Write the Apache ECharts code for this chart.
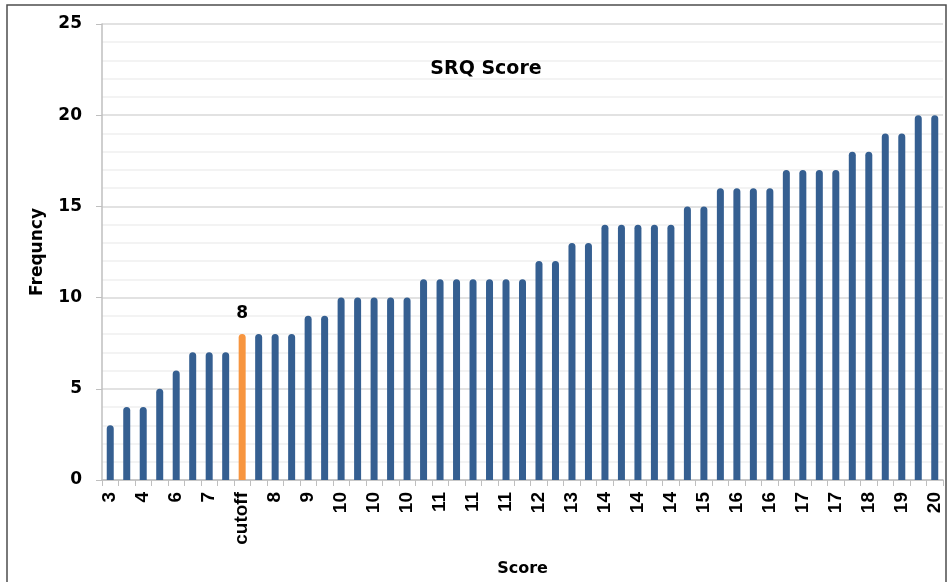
<!DOCTYPE html>
<html>
<head>
<meta charset="utf-8">
<script src="https://cdn.jsdelivr.net/npm/echarts@6/dist/echarts.min.js"></script>
<style>
  html, body { margin: 0; padding: 0; background: #fff; }
  #chart { width: 949px; height: 582px; }
</style>
</head>
<body>
<div id="chart"></div>
<script>
// Sorted SRQ scores; the cutoff column sits among the 8s
const scoreLabels = [
  '3','4','4','5','6','7','7','7','cutoff','8','8','8','9','9',
  '10','10','10','10','10',
  '11','11','11','11','11','11','11',
  '12','12','13','13',
  '14','14','14','14','14',
  '15','15','16','16','16','16',
  '17','17','17','17','18','18','19','19','20','20'
];
const frequency = [
  3,4,4,5,6,7,7,7,8,8,8,8,9,9,
  10,10,10,10,10,
  11,11,11,11,11,11,11,
  12,12,13,13,
  14,14,14,14,14,
  15,15,16,16,16,16,
  17,17,17,17,18,18,19,19,20,20
];
const cutoffLabel = 'cutoff';
const yTicks = [0, 5, 10, 15, 20, 25];

const BLUE = '#355f91';
const ORANGE = '#f7953f';
const TEXT_FONT = 'DejaVu Sans';

const chart = echarts.init(document.getElementById('chart'), null, { renderer: 'canvas' });

const barData = frequency.map((v, i) => {
  if (scoreLabels[i] === cutoffLabel) {
    return {
      value: v,
      itemStyle: { color: ORANGE },
      label: {
        show: true, position: 'top', distance: 12,
        fontFamily: TEXT_FONT, fontWeight: 'bold', fontSize: 17, color: '#000'
      }
    };
  }
  return v;
});

chart.setOption({
  animation: false,
  title: {
    text: 'SRQ Score',
    left: 481, top: 55, textAlign: 'center',
    textStyle: { fontFamily: TEXT_FONT, fontWeight: 'bold', fontSize: 19, color: '#000' }
  },
  graphic: [{
    type: 'rect',
    shape: { x: 7, y: 5, width: 939, height: 700 },
    style: { fill: 'none', stroke: '#4d4d4d', lineWidth: 1.5 },
    silent: true
  }],
  grid: { left: 102, right: 6, top: 24, bottom: 99 },
  xAxis: {
    type: 'category',
    data: scoreLabels,
    name: 'Score',
    nameLocation: 'middle',
    nameGap: 81,
    nameTextStyle: { fontFamily: TEXT_FONT, fontWeight: 'bold', fontSize: 16, color: '#000' },
    axisLine: { lineStyle: { color: '#bfbfbf', width: 1.5 } },
    axisTick: { show: true, length: 6, alignWithLabel: false, interval: 0, lineStyle: { color: '#bfbfbf' } },
    axisLabel: {
      interval: 1, rotate: 90, margin: 12,
      fontFamily: 'Liberation Sans', fontWeight: 'bold', fontSize: 19, color: '#000'
    }
  },
  yAxis: {
    type: 'value',
    min: yTicks[0], max: yTicks[yTicks.length - 1], interval: 5,
    name: 'Frequncy',
    nameLocation: 'middle',
    nameGap: 56,
    nameRotate: 90,
    nameTextStyle: { fontFamily: TEXT_FONT, fontWeight: 'bold', fontSize: 17, color: '#000' },
    axisLine: { show: true, lineStyle: { color: '#bfbfbf', width: 1.5 } },
    axisTick: { show: true, length: 6, lineStyle: { color: '#bfbfbf' } },
    axisLabel: {
      margin: 20,
      fontFamily: TEXT_FONT, fontWeight: 'bold', fontSize: 17, color: '#000'
    },
    splitLine: { lineStyle: { color: '#d9d9d9', width: 1.5 } },
    minorTick: { show: false, splitNumber: 5 },
    minorSplitLine: { show: true, lineStyle: { color: '#efefef', width: 1.5 } }
  },
  series: [{
    type: 'bar',
    data: barData,
    barWidth: 7,
    itemStyle: { color: BLUE, borderRadius: [4, 4, 0, 0] }
  }]
});
</script>
</body>
</html>
